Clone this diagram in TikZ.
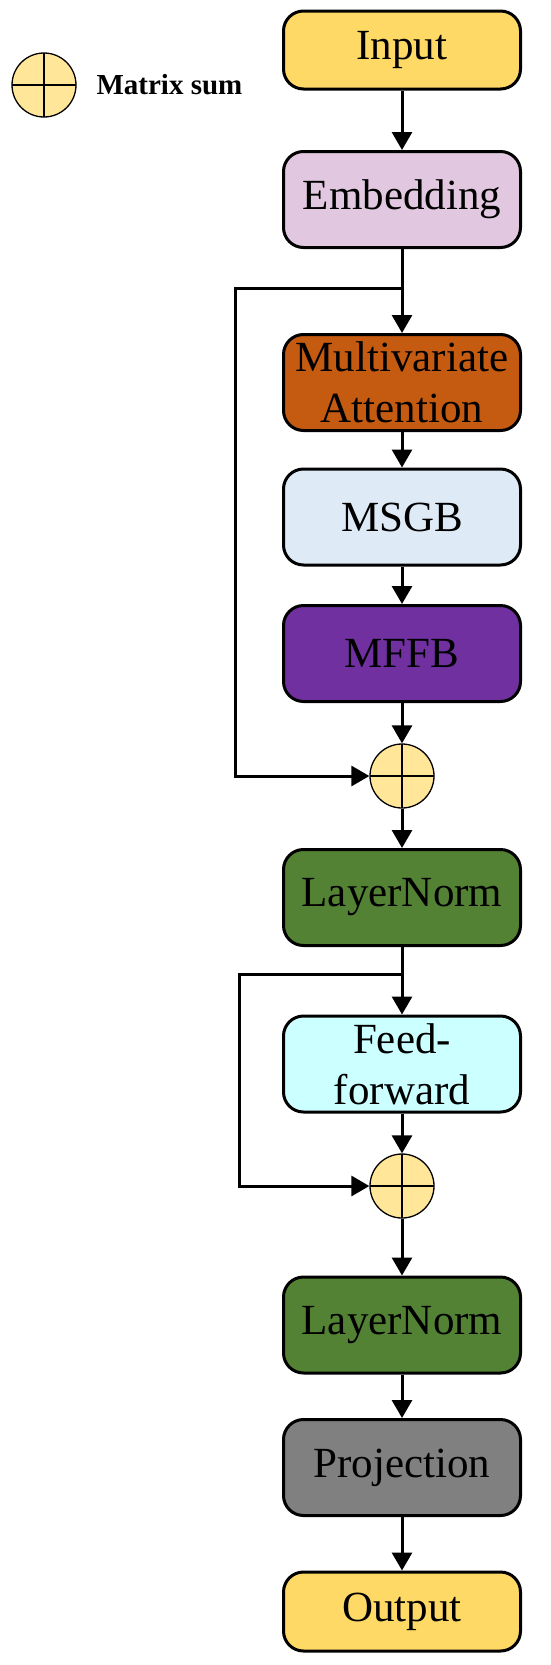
\documentclass[tikz,border=0pt]{standalone}
\usepackage{fontspec}
\setmainfont{Liberation Serif}
\usetikzlibrary{arrows.meta, positioning}

\definecolor{ioyellow}{RGB}{255,217,102}
\definecolor{embpink}{RGB}{225,200,224}
\definecolor{attorange}{RGB}{197,90,17}
\definecolor{msgbblue}{RGB}{222,235,247}
\definecolor{mffbpurple}{RGB}{112,48,160}
\definecolor{normgreen}{RGB}{84,130,53}
\definecolor{ffcyan}{RGB}{204,255,255}
\definecolor{projgray}{RGB}{128,128,128}
\definecolor{sumyellow}{RGB}{255,230,153}

\begin{document}
\begin{tikzpicture}[
        x=1pt, y=1pt,
        block/.style={draw, line width=3pt, rounded corners=20pt, minimum width=237pt, minimum height=96pt, align=center, inner sep=0pt, font=\fontsize{43}{51}\selectfont},
        sumnode/.style={circle, draw, line width=1.3pt, fill=sumyellow, minimum size=64pt, inner sep=0pt,
            path picture={\draw[line width=1.3pt] (path picture bounding box.north) -- (path picture bounding box.south)
                (path picture bounding box.west) -- (path picture bounding box.east);}},
        arrow/.style={-{Triangle[length=18pt, width=20pt]}, line width=3pt}
    ]
    \useasboundingbox (0,0) rectangle (550,-1665);

    % Legend
    \node[sumnode] (legsum) at (44,-85) {};
    \node[font=\fontsize{29}{32}\selectfont\bfseries, anchor=base west] (legtext) at (93,-94) {Matrix sum};

    % Main column
    \node[block, fill=ioyellow, minimum height=78pt] (input) at (402,-50) {Input};
    \node[block, fill=embpink] (embed) at (402,-199.5) {Embedding};
    \node[block, fill=attorange] (attn) at (402,-382.5) {Multivariate\\Attention};
    \node[block, fill=msgbblue] (msgb) at (402,-517) {MSGB};
    \node[block, fill=mffbpurple] (mffb) at (402,-653.5) {MFFB};
    \node[sumnode] (sum1) at (402,-776) {};
    \node[block, fill=normgreen] (norm1) at (402,-897.5) {LayerNorm};
    \node[block, fill=ffcyan] (ffwd) at (402,-1064) {Feed-\\forward};
    \node[sumnode] (sum2) at (402,-1186) {};
    \node[block, fill=normgreen] (norm2) at (402,-1325) {LayerNorm};
    \node[block, fill=projgray] (proj) at (402,-1467.5) {Projection};
    \node[block, fill=ioyellow, minimum height=79pt] (output) at (402,-1611.5) {Output};

    % Residual branch points
    \coordinate (split1) at (402,-288);
    \coordinate (loop1) at (235,-288);
    \coordinate (split2) at (402,-974);
    \coordinate (loop2) at (239,-974);

    % Forward arrows
    \draw[arrow] (input) -- (embed);
    \draw[arrow] (embed) -- (attn);
    \draw[arrow] (attn) -- (msgb);
    \draw[arrow] (msgb) -- (mffb);
    \draw[arrow] (mffb) -- (sum1);
    \draw[arrow] (sum1) -- (norm1);
    \draw[arrow] (norm1) -- (ffwd);
    \draw[arrow] (ffwd) -- (sum2);
    \draw[arrow] (sum2) -- (norm2);
    \draw[arrow] (norm2) -- (proj);
    \draw[arrow] (proj) -- (output);

    % Skip connections
    \draw[arrow] (split1) -- (loop1) |- (sum1);
    \draw[arrow] (split2) -- (loop2) |- (sum2);

\end{tikzpicture}
\end{document}
